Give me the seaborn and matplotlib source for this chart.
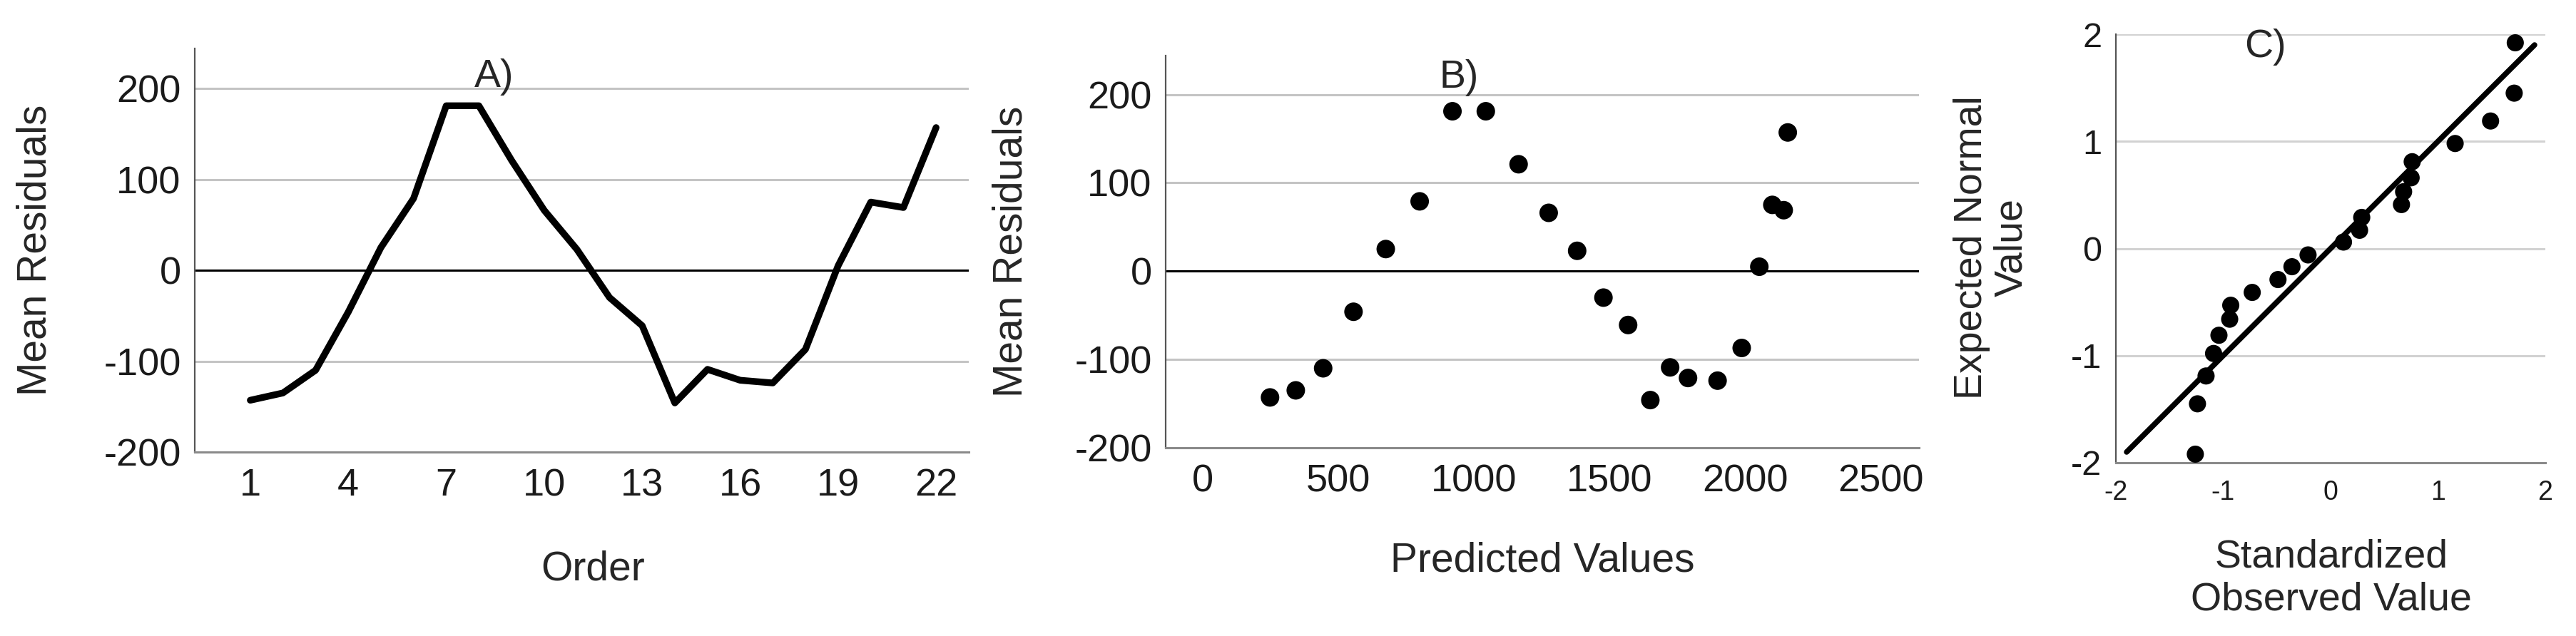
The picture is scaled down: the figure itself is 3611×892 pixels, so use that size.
import seaborn as sns
import matplotlib.pyplot as plt
import pandas as pd

# residuals in order of observation (A), same values vs predicted (B)
order = list(range(1, 23))
residuals = [-143, -135, -110, -46, 25, 79, 181, 181, 121, 66, 23,
             -30, -61, -146, -109, -121, -124, -87, 5, 75, 69, 157]
predicted = [248, 343, 444, 556, 675, 800, 921, 1044, 1165, 1276, 1381,
             1478, 1569, 1651, 1724, 1790, 1899, 1988, 2053, 2101, 2143, 2158]

# normal Q-Q plot (C)
std_observed = [-1.26, -1.24, -1.16, -1.09, -1.04, -0.94, -0.93, -0.73, -0.49, -0.36, -0.21,
                0.12, 0.27, 0.29, 0.66, 0.68, 0.75, 0.76, 1.16, 1.49, 1.71, 1.72]
expected_normal = [-1.92, -1.45, -1.19, -0.98, -0.81, -0.66, -0.53, -0.41, -0.29, -0.17, -0.06,
                   0.06, 0.17, 0.29, 0.41, 0.53, 0.66, 0.81, 0.98, 1.19, 1.45, 1.92]
ref_line = [-1.9, 1.9]

resid_ticks = [-200, -100, 0, 100, 200]
order_ticks = [1, 4, 7, 10, 13, 16, 19, 22]
pred_ticks = [0, 500, 1000, 1500, 2000, 2500]
qq_ticks = [-2, -1, 0, 1, 2]

df = pd.DataFrame({"Order": order, "Residual": residuals, "Predicted": predicted})
qq = pd.DataFrame({"Observed": std_observed, "Expected": expected_normal})

sns.set_theme(style="white")
plt.rcParams["font.family"] = ["Liberation Sans", "DejaVu Sans"]
plt.rcParams["axes.unicode_minus"] = False

W, H = 3612, 892
fig = plt.figure(figsize=(W / 100, H / 100), dpi=100)


def box(left, right, top, bottom):
    return [left / W, 1 - bottom / H, (right - left) / W, (bottom - top) / H]


def style_axis(ax, yticks, grid_color="#c4c4c4"):
    for s in ["top", "right"]:
        ax.spines[s].set_visible(False)
    ax.spines["left"].set_color("#555555")
    ax.spines["left"].set_linewidth(1.6)
    ax.spines["bottom"].set_color("#8a8a8a")
    ax.spines["bottom"].set_linewidth(2.2)
    for t in yticks[1:]:
        ax.axhline(t, color=grid_color, lw=2.2, zorder=0)
    ax.tick_params(length=0, colors="#1a1a1a")


# ---- A) residuals by order
axA = fig.add_axes(box(273, 1358, 68, 634))
style_axis(axA, resid_ticks)
axA.axhline(0, color="black", lw=2.2, zorder=1)
sns.lineplot(data=df, x="Order", y="Residual", ax=axA, color="black", lw=6.8, zorder=3)
axA.set_xlim(-0.7, 23.0)
axA.set_ylim(-200, 244)
axA.set_xticks(order_ticks)
axA.set_yticks(resid_ticks)
axA.tick_params(axis="x", labelsize=39, pad=16)
axA.tick_params(axis="y", labelsize=39, pad=14)
axA.set_xlabel("")
axA.set_ylabel("")
axA.text(8.46, 202, "A)", fontsize=40, ha="center", va="baseline")

# ---- B) residuals vs predicted
axB = fig.add_axes(box(1634, 2690, 78, 628))
style_axis(axB, resid_ticks)
axB.axhline(0, color="black", lw=2.2, zorder=1)
sns.scatterplot(data=df, x="Predicted", y="Residual", ax=axB, color="black",
                s=350, edgecolor="none", zorder=3)
axB.set_xlim(-137, 2642)
axB.set_ylim(-200, 244)
axB.set_xticks(pred_ticks)
axB.set_yticks(resid_ticks)
axB.tick_params(axis="x", labelsize=39, pad=16)
axB.tick_params(axis="y", labelsize=39, pad=14)
axB.set_xlabel("")
axB.set_ylabel("")
axB.text(945, 208, "B)", fontsize=40, ha="center", va="baseline")

# ---- C) normal Q-Q plot
axC = fig.add_axes(box(2966, 3568, 48, 649))
style_axis(axC, qq_ticks, grid_color="#d2d2d2")
sns.lineplot(x=ref_line, y=ref_line, ax=axC, color="black", lw=5.5, zorder=2)
sns.scatterplot(data=qq, x="Observed", y="Expected", ax=axC, color="black",
                s=300, edgecolor="none", zorder=3)
axC.set_xlim(-2, 2)
axC.set_ylim(-2, 2)
axC.set_xticks(qq_ticks)
axC.set_yticks(qq_ticks)
axC.tick_params(axis="x", labelsize=27, pad=17)
axC.tick_params(axis="y", labelsize=35, pad=14)
axC.set_xlabel("")
axC.set_ylabel("")
axC.text(-0.61, 1.79, "C)", fontsize=40, ha="center", va="baseline")

# axis titles
fig.text(50 / W, 1 - 351 / H, "Mean Residuals", rotation=90, fontsize=41, ha="center", va="center")
fig.text(831 / W, 1 - 799 / H, "Order", fontsize=41, ha="center", va="center")
fig.text(1418 / W, 1 - 353 / H, "Mean Residuals", rotation=90, fontsize=41, ha="center", va="center")
fig.text(2162 / W, 1 - 787 / H, "Predicted Values", fontsize=41, ha="center", va="center")
fig.text(2792 / W, 1 - 347 / H, "Expected Normal\nValue", rotation=90, fontsize=40,
         ha="center", va="center", linespacing=1.1, multialignment="center")
fig.text(3268 / W, 1 - 812 / H, "Standardized\nObserved Value", fontsize=40,
         ha="center", va="center", linespacing=1.2, multialignment="center")

fig.savefig("out.png", dpi=100, facecolor="white")
